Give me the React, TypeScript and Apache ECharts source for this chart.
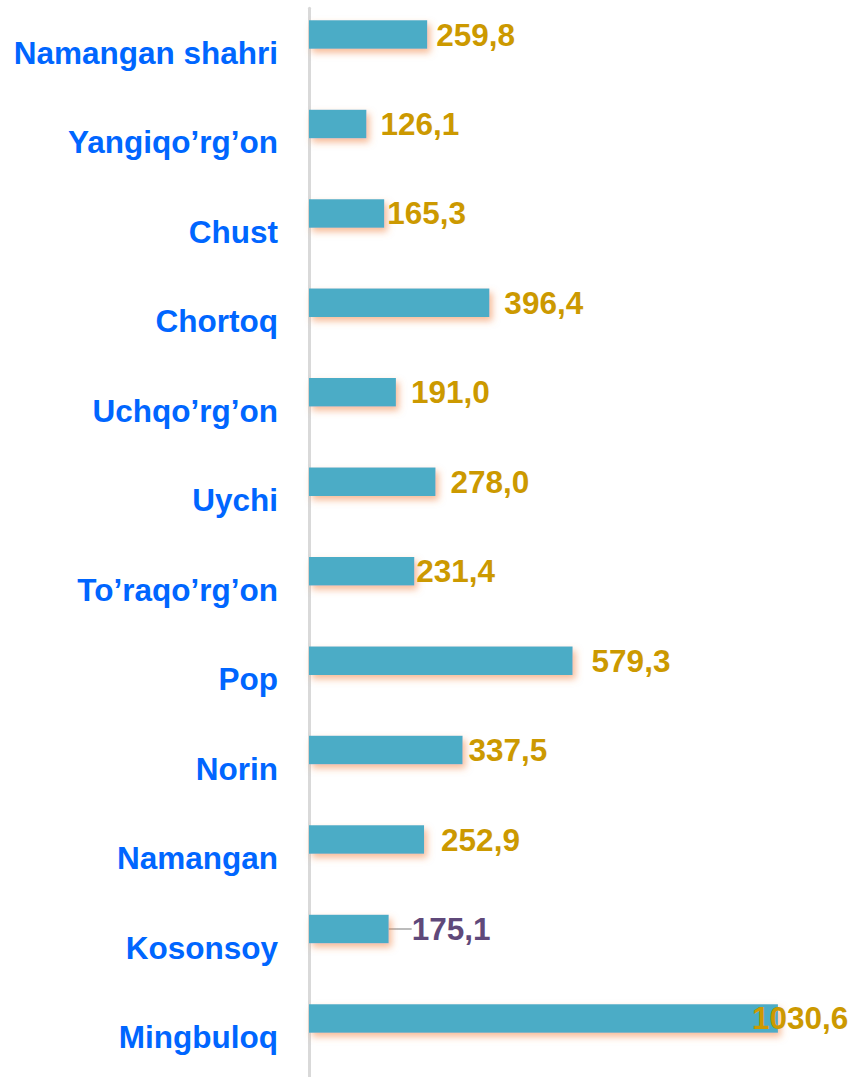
import React, { useEffect, useRef } from 'react';
import * as echarts from 'echarts';

const categories = [
  'Namangan shahri',
  'Yangiqo’rg’on',
  'Chust',
  'Chortoq',
  'Uchqo’rg’on',
  'Uychi',
  'To’raqo’rg’on',
  'Pop',
  'Norin',
  'Namangan',
  'Kosonsoy',
  'Mingbuloq',
];

const values = [259.8, 126.1, 165.3, 396.4, 191.0, 278.0, 231.4, 579.3, 337.5, 252.9, 175.1, 1030.6];

// label distance from bar end (style only)
const labelDistances = [9, 14, 3, 15, 15, 15, 2, 19, 6, 17, 5, -26];

const fmt = (v: number) => v.toFixed(1).replace('.', ',');

export default function App() {
  const ref = useRef<HTMLDivElement>(null);

  useEffect(() => {
    if (!ref.current) return;
    const chart = echarts.init(ref.current, undefined, { renderer: 'svg' });
    const font = '"Liberation Sans", Arial, sans-serif';
    chart.setOption({
      animation: false,
      backgroundColor: '#ffffff',
      grid: {
        left: 309,
        top: 8.3,
        width: 500.5,
        height: 1073.4,
        containLabel: false,
        outerBoundsMode: 'none',
      },
      xAxis: { type: 'value', min: 0, max: 1100, show: false },
      yAxis: {
        type: 'category',
        data: categories,
        inverse: true,
        offset: 2,
        axisLine: { show: true, lineStyle: { color: '#D9D9D9', width: 3 } },
        axisTick: { show: false },
        splitLine: { show: false },
        axisLabel: {
          color: '#0066FF',
          fontSize: 31.5,
          fontWeight: 'bold',
          fontFamily: font,
          margin: 29,
        },
      },
      series: [
        {
          type: 'bar',
          barWidth: 28.5,
          barGap: '30%',
          itemStyle: {
            color: '#4BACC6',
            shadowColor: 'rgba(240,130,60,0.55)',
            shadowBlur: 7,
            shadowOffsetX: 3,
            shadowOffsetY: 4,
          },
          label: {
            show: true,
            position: 'right',
            color: '#CC9900',
            fontSize: 31.5,
            fontWeight: 'bold',
            fontFamily: font,
            formatter: (p: any) => fmt(p.value),
          },
          labelLine: { show: false },
          labelLayout: (p: any) => (p.dataIndex === 10 ? { dx: 18 } : {}),
          data: values.map((v, i) => {
            if (i === 10) {
              return {
                value: v,
                label: { distance: labelDistances[i], color: '#5F497A' },
                labelLine: { show: true, lineStyle: { color: '#A6A6A6', width: 1.5 } },
              };
            }
            return { value: v, label: { distance: labelDistances[i] } };
          }),
          z: 3,
        },
        {
          type: 'bar',
          barWidth: 28.5,
          silent: true,
          data: values.map(() => null),
        },
      ],
    });
    return () => chart.dispose();
  }, []);

  return (
    <div
      ref={ref}
      style={{ position: 'absolute', left: 0, top: 0, width: 852, height: 1077 }}
    />
  );
}
